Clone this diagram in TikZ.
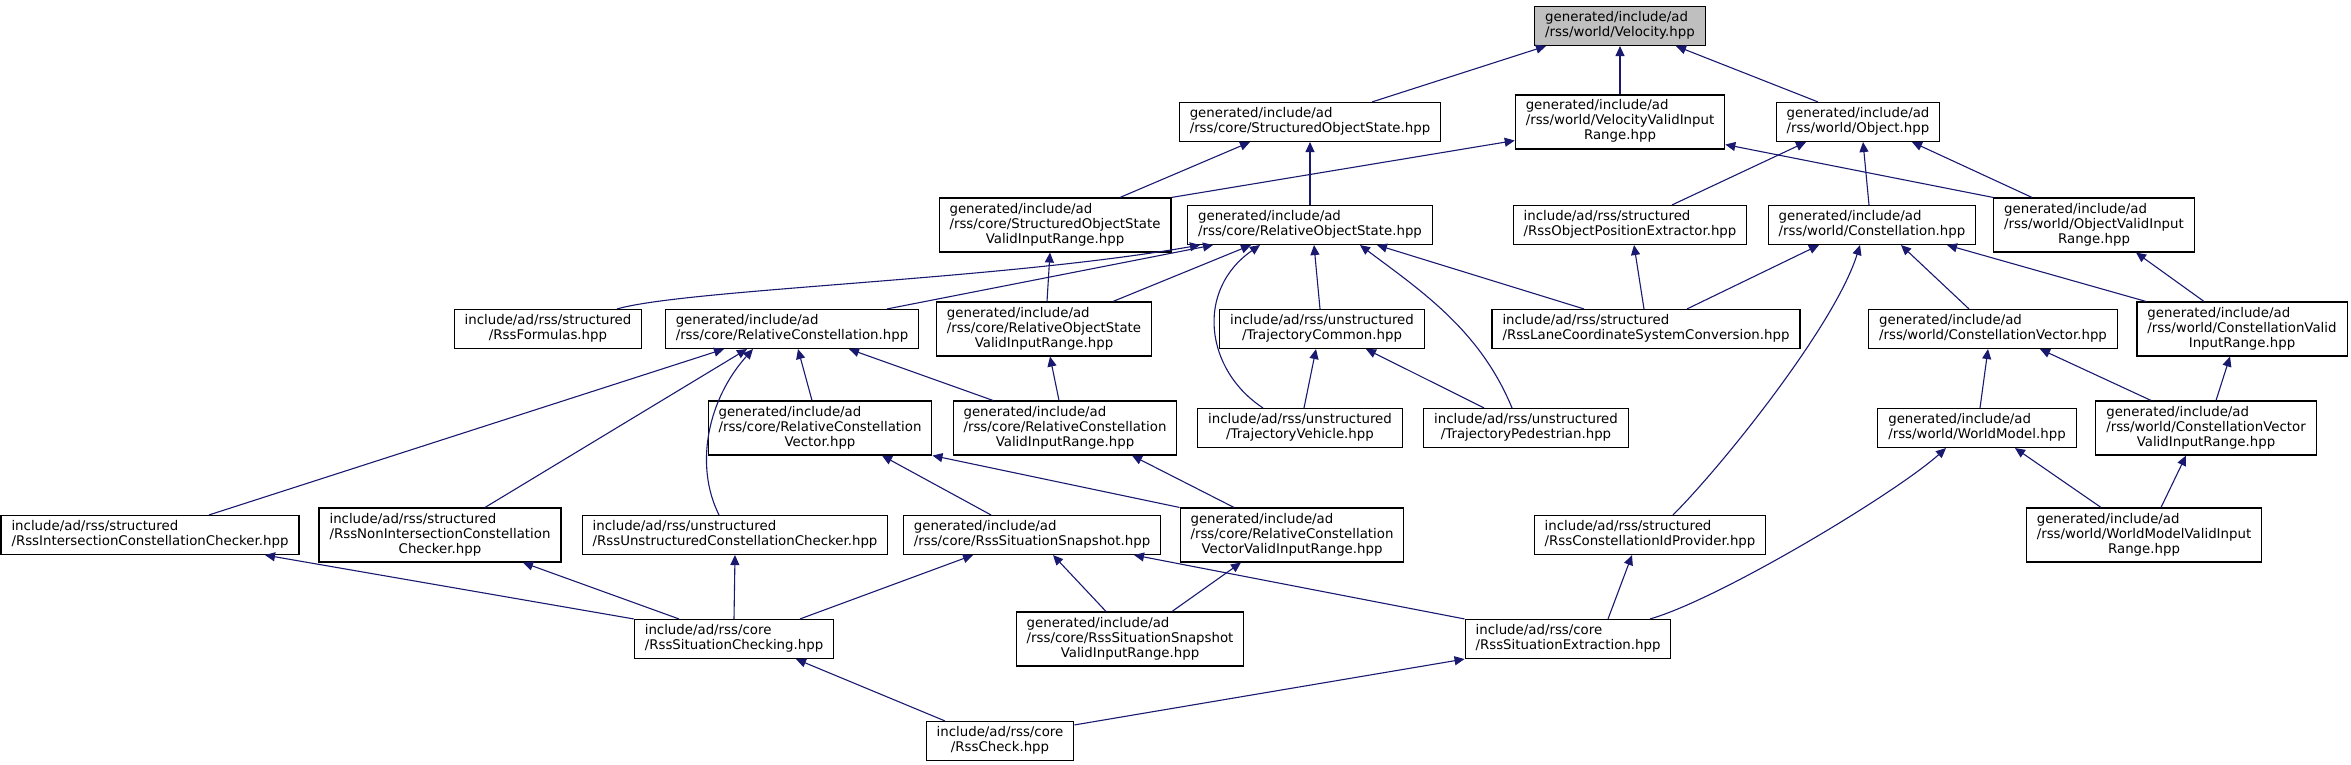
\documentclass[tikz,border=0pt]{standalone}
\usepackage{fontspec}
\setmainfont{DejaVu Sans}
\usetikzlibrary{arrows.meta}

% label: all lines left, last line centred (doxygen style)
\newcommand{\flab}[2]{\begin{tabular}{@{}l@{}}#1\\\multicolumn{1}{@{}c@{}}{#2}\end{tabular}}

\begin{document}
\begin{tikzpicture}[x=1pt,y=-1pt,
  hdr/.style={draw=black, line width=1.1pt, fill=white, inner xsep=10.5pt, inner ysep=4.5pt,
    font=\fontsize{13.33}{15}\selectfont},
  dep/.style={draw=edgeblue, line width=1.1pt, -{Triangle[length=10pt,width=9pt]}}]

  \definecolor{edgeblue}{RGB}{25,25,112}
  \definecolor{hdrgray}{RGB}{191,191,191}

  \useasboundingbox (0,0) rectangle (2351,765);

  % --- rank 0 ---
  \node[hdr, fill=hdrgray] (vel) at (1620,26) {\flab{generated/include/ad}{/rss/world/Velocity.hpp}};

  % --- rank 1 ---
  \node[hdr] (sos)  at (1310,122) {\flab{generated/include/ad}{/rss/core/StructuredObjectState.hpp}};
  \node[hdr] (vvir) at (1620,122) {\flab{generated/include/ad\\/rss/world/VelocityValidInput}{Range.hpp}};
  \node[hdr] (obj)  at (1858,122) {\flab{generated/include/ad}{/rss/world/Object.hpp}};

  % --- rank 2 ---
  \node[hdr] (sosvir)  at (1055,225) {\flab{generated/include/ad\\/rss/core/StructuredObjectState}{ValidInputRange.hpp}};
  \node[hdr] (ros)     at (1310,225) {\flab{generated/include/ad}{/rss/core/RelativeObjectState.hpp}};
  \node[hdr] (rope)    at (1630,225) {\flab{include/ad/rss/structured}{/RssObjectPositionExtractor.hpp}};
  \node[hdr] (constel) at (1872,225) {\flab{generated/include/ad}{/rss/world/Constellation.hpp}};
  \node[hdr] (ovir)    at (2094,225) {\flab{generated/include/ad\\/rss/world/ObjectValidInput}{Range.hpp}};

  % --- rank 3 ---
  \node[hdr] (rform)   at (548,329)  {\flab{include/ad/rss/structured}{/RssFormulas.hpp}};
  \node[hdr] (relcon)  at (792,329)  {\flab{generated/include/ad}{/rss/core/RelativeConstellation.hpp}};
  \node[hdr] (rosvir)  at (1044,329) {\flab{generated/include/ad\\/rss/core/RelativeObjectState}{ValidInputRange.hpp}};
  \node[hdr] (trajcom) at (1322,329) {\flab{include/ad/rss/unstructured}{/TrajectoryCommon.hpp}};
  \node[hdr] (lanecsc) at (1646,329) {\flab{include/ad/rss/structured}{/RssLaneCoordinateSystemConversion.hpp}};
  \node[hdr] (convec)  at (1993,329) {\flab{generated/include/ad}{/rss/world/ConstellationVector.hpp}};
  \node[hdr] (convir)  at (2242,329) {\flab{generated/include/ad\\/rss/world/ConstellationValid}{InputRange.hpp}};

  % --- rank 4 ---
  \node[hdr] (rcv)     at (820,428)  {\flab{generated/include/ad\\/rss/core/RelativeConstellation}{Vector.hpp}};
  \node[hdr] (rcvir)   at (1065,428) {\flab{generated/include/ad\\/rss/core/RelativeConstellation}{ValidInputRange.hpp}};
  \node[hdr] (trajveh) at (1300,428) {\flab{include/ad/rss/unstructured}{/TrajectoryVehicle.hpp}};
  \node[hdr] (trajped) at (1526,428) {\flab{include/ad/rss/unstructured}{/TrajectoryPedestrian.hpp}};
  \node[hdr] (wmodel)  at (1977,428) {\flab{generated/include/ad}{/rss/world/WorldModel.hpp}};
  \node[hdr] (cvvir)   at (2206,428) {\flab{generated/include/ad\\/rss/world/ConstellationVector}{ValidInputRange.hpp}};

  % --- rank 5 ---
  \node[hdr] (intcc)    at (150,535)  {\flab{include/ad/rss/structured}{/RssIntersectionConstellationChecker.hpp}};
  \node[hdr] (nonintcc) at (440,535)  {\flab{include/ad/rss/structured\\/RssNonIntersectionConstellation}{Checker.hpp}};
  \node[hdr] (unstrcc)  at (735,535)  {\flab{include/ad/rss/unstructured}{/RssUnstructuredConstellationChecker.hpp}};
  \node[hdr] (snap)     at (1032,535) {\flab{generated/include/ad}{/rss/core/RssSituationSnapshot.hpp}};
  \node[hdr] (rcvvir)   at (1292,535) {\flab{generated/include/ad\\/rss/core/RelativeConstellation}{VectorValidInputRange.hpp}};
  \node[hdr] (idprov)   at (1650,535) {\flab{include/ad/rss/structured}{/RssConstellationIdProvider.hpp}};
  \node[hdr] (wmvir)    at (2144,535) {\flab{generated/include/ad\\/rss/world/WorldModelValidInput}{Range.hpp}};

  % --- rank 6 ---
  \node[hdr] (sitcheck) at (734,639)  {\flab{include/ad/rss/core}{/RssSituationChecking.hpp}};
  \node[hdr] (snapvir)  at (1130,639) {\flab{generated/include/ad\\/rss/core/RssSituationSnapshot}{ValidInputRange.hpp}};
  \node[hdr] (sitext)   at (1568,639) {\flab{include/ad/rss/core}{/RssSituationExtraction.hpp}};

  % --- rank 7 ---
  \node[hdr] (rsscheck) at (1000,741) {\flab{include/ad/rss/core}{/RssCheck.hpp}};

  % --- includes (child -> included header) ---
  \draw[dep] ([xshift=62]sos.north) -- ([xshift=-74]vel.south);
  \draw[dep] (vvir.north) -- (vel.south);
  \draw[dep] ([xshift=-40]obj.north) -- ([xshift=56]vel.south);

  \draw[dep] ([xshift=65]sosvir.north) -- ([xshift=-60]sos.south);
  \draw[dep] (ros.north) -- (sos.south);
  \draw[dep] (sosvir.north east) -- ([yshift=9]vvir.south west);
  \draw[dep] (ovir.north west) -- ([yshift=5]vvir.south east);
  \draw[dep] ([xshift=42]rope.north) -- ([xshift=-52]obj.south);
  \draw[dep] ([xshift=-3]constel.north) -- ([xshift=5]obj.south);
  \draw[dep] ([xshift=-62]ovir.north) -- ([xshift=54]obj.south);

  \draw[dep] ([xshift=95]relcon.north) -- ([xshift=-97]ros.south);
  \draw[dep] ([xshift=69]rform.north) .. controls +(70,-20) and +(-200,35) .. ([xshift=-110]ros.south);
  \draw[dep] ([xshift=69]rosvir.north) -- ([xshift=-59]ros.south);
  \draw[dep] ([xshift=-2]trajcom.north) -- ([xshift=4]ros.south);
  \draw[dep] ([xshift=-62]lanecsc.north) -- ([xshift=67]ros.south);
  \draw[dep] ([xshift=-37]trajveh.north) .. controls +(-58,-38) and +(-65,45) .. ([xshift=-50]ros.south);
  \draw[dep] ([xshift=-14]trajped.north) .. controls +(-32,-78) and +(60,45) .. ([xshift=50]ros.south);
  \draw[dep] ([xshift=3]rosvir.north) -- ([xshift=-5]sosvir.south);
  \draw[dep] ([xshift=-2]lanecsc.north) -- ([xshift=4]rope.south);
  \draw[dep] ([xshift=41]lanecsc.north) -- ([xshift=-53]constel.south);
  \draw[dep] ([xshift=-24]convec.north) -- ([xshift=29]constel.south);
  \draw[dep] ([xshift=-96]convir.north) -- ([xshift=75]constel.south);
  \draw[dep] ([xshift=-38]convir.north) -- ([xshift=42]ovir.south);

  \draw[dep] ([xshift=-8]rcv.north) -- ([xshift=6]relcon.south);
  \draw[dep] ([xshift=-72]rcvir.north) -- ([xshift=57]relcon.south);
  \draw[dep] ([xshift=-6]rcvir.north) -- ([xshift=6]rosvir.south);
  \draw[dep] ([xshift=4]trajveh.north) -- ([xshift=-6]trajcom.south);
  \draw[dep] ([xshift=-42]trajped.north) -- ([xshift=44]trajcom.south);
  \draw[dep] ([xshift=3]wmodel.north) -- ([xshift=-5]convec.south);
  \draw[dep] ([xshift=-55]cvvir.north) -- ([xshift=47]convec.south);
  \draw[dep] ([xshift=10]cvvir.north) -- ([xshift=-12]convir.south);

  \draw[dep] ([xshift=59]intcc.north) -- ([xshift=-68]relcon.south);
  \draw[dep] ([xshift=45]nonintcc.north) -- ([xshift=-45]relcon.south);
  \draw[dep] ([xshift=-16]unstrcc.north) .. controls +(-25,-50) and +(-45,50) .. ([xshift=-39]relcon.south);
  \draw[dep] ([xshift=-41]snap.north) -- ([xshift=62]rcv.south);
  \draw[dep] (rcvvir.north west) -- (rcv.south east);
  \draw[dep] ([xshift=-58]rcvvir.north) -- ([xshift=67]rcvir.south);
  \draw[dep] ([xshift=23]idprov.north) .. controls +(50,-50) and +(-25,80) .. ([xshift=-12]constel.south);
  \draw[dep] ([xshift=-43]wmvir.north) -- ([xshift=38]wmodel.south);
  \draw[dep] ([xshift=17]wmvir.north) -- ([xshift=-20]cvvir.south);

  \draw[dep] (sitcheck.north west) -- ([xshift=115]intcc.south);
  \draw[dep] ([xshift=-55]sitcheck.north) -- ([xshift=83]nonintcc.south);
  \draw[dep] (sitcheck.north) -- (unstrcc.south);
  \draw[dep] ([xshift=66]sitcheck.north) -- ([xshift=-59]snap.south);
  \draw[dep] ([xshift=-24]snapvir.north) -- ([xshift=21]snap.south);
  \draw[dep] ([xshift=42]snapvir.north) -- ([xshift=-51]rcvvir.south);
  \draw[dep] (sitext.north west) -- ([xshift=102]snap.south);
  \draw[dep] ([xshift=40]sitext.north) -- ([xshift=-18]idprov.south);
  \draw[dep] ([xshift=82]sitext.north) .. controls +(70,-20) and +(-50,45) .. ([xshift=-31]wmodel.south);

  \draw[dep] ([xshift=-55]rsscheck.north) -- ([xshift=62]sitcheck.south);
  \draw[dep] ([yshift=-4]rsscheck.north east) -- (sitext.south west);

\end{tikzpicture}
\end{document}
